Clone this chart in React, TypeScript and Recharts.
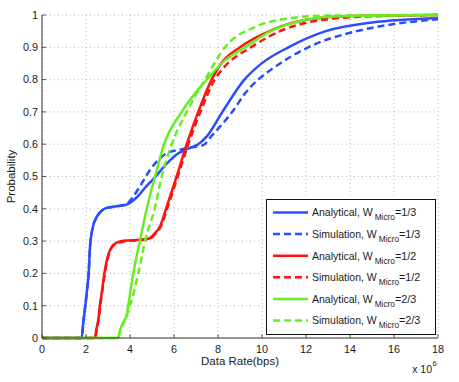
import React from 'react';
import { LineChart, Line, XAxis, YAxis, CartesianGrid, Legend } from 'recharts';

// ---------- data ----------
const xTicks = [0, 2, 4, 6, 8, 10, 12, 14, 16, 18];
const yTicks = [0, 0.1, 0.2, 0.3, 0.4, 0.5, 0.6, 0.7, 0.8, 0.9, 1];
const yTickLabels = ['0', '0.1', '0.2', '0.3', '0.4', '0.5', '0.6', '0.7', '0.8', '0.9', '1'];

const anaThirdX = [0, 1.8, 1.88, 1.95, 2.05, 2.12, 2.18, 2.3, 2.45, 2.65, 2.9, 3.3, 3.8, 4.3, 4.75, 5.1, 5.67, 6.2, 6.7, 7.1, 7.5, 8.2, 9.2, 10, 11.2, 12.9, 15, 18];
const anaThirdY = [0, 0, 0.05, 0.09, 0.15, 0.2, 0.28, 0.34, 0.37, 0.39, 0.402, 0.407, 0.412, 0.435, 0.47, 0.495, 0.54, 0.572, 0.588, 0.6, 0.625, 0.7, 0.8, 0.851, 0.9, 0.95, 0.977, 0.99];

const simThirdX = [0, 1.8, 1.88, 1.95, 2.05, 2.12, 2.18, 2.3, 2.45, 2.65, 2.9, 3.3, 3.8, 4.15, 4.5, 4.91, 5.3, 5.67, 6.27, 7.03, 7.33, 7.7, 8.1, 8.7, 9.2, 9.83, 10.5, 12.1, 14.3, 16, 18];
const simThirdY = [0, 0, 0.05, 0.09, 0.15, 0.2, 0.28, 0.34, 0.37, 0.39, 0.402, 0.407, 0.413, 0.438, 0.475, 0.52, 0.552, 0.572, 0.583, 0.593, 0.597, 0.625, 0.655, 0.705, 0.755, 0.8, 0.835, 0.9, 0.95, 0.972, 0.987];

const anaHalfX = [0, 2.4, 2.48, 2.56, 2.63, 2.71, 2.86, 3.0, 3.15, 3.4, 3.8, 4.45, 4.9, 5.1, 5.36, 5.67, 6.12, 6.58, 7.1, 7.71, 8.1, 9.0, 10.5, 12, 14, 18];
const anaHalfY = [0, 0, 0.03, 0.056, 0.1, 0.138, 0.21, 0.255, 0.28, 0.295, 0.302, 0.304, 0.309, 0.322, 0.345, 0.407, 0.5, 0.6, 0.7, 0.8, 0.846, 0.9, 0.955, 0.985, 0.997, 1];

const simHalfX = [0, 2.42, 2.5, 2.58, 2.65, 2.73, 2.88, 3.02, 3.17, 3.4, 3.8, 4.45, 4.9, 5.12, 5.4, 5.72, 6.17, 6.65, 7.2, 7.85, 8.3, 9.5, 11, 12.5, 15, 18];
const simHalfY = [0, 0, 0.03, 0.06, 0.1, 0.14, 0.21, 0.255, 0.28, 0.293, 0.3, 0.303, 0.307, 0.32, 0.345, 0.407, 0.5, 0.6, 0.7, 0.8, 0.84, 0.9, 0.955, 0.982, 0.996, 1];

const anaTwoThirdX = [0, 3.45, 3.55, 3.7, 3.85, 3.92, 4.15, 4.45, 4.76, 5.14, 5.55, 6.35, 7.49, 8.24, 9.3, 10.4, 12, 13.5, 18];
const anaTwoThirdY = [0, 0, 0.025, 0.05, 0.07, 0.1, 0.2, 0.3, 0.4, 0.5, 0.6, 0.7, 0.8, 0.855, 0.903, 0.95, 0.985, 0.996, 1];

const simTwoThirdX = [0, 3.45, 3.6, 3.8, 4.0, 4.38, 4.68, 5.12, 5.44, 5.9, 6.58, 7.41, 8.32, 9.76, 11.27, 12.8, 18];
const simTwoThirdY = [0, 0, 0.03, 0.06, 0.1, 0.2, 0.3, 0.4, 0.5, 0.6, 0.7, 0.8, 0.9, 0.965, 0.99, 0.998, 1];

const seriesLabels = ['Analytical, W', 'Simulation, W', 'Analytical, W', 'Simulation, W', 'Analytical, W', 'Simulation, W'];
const seriesFractions = ['=1/3', '=1/3', '=1/2', '=1/2', '=2/3', '=2/3'];

// ---------- styles ----------
const BLUE = '#2a4dff';
const RED = '#ff1212';
const GREEN = '#66ee22';
const AXIS = '#333333';
const TXT = '#1a1a1a';
const FONT = '"Liberation Sans", Arial, Helvetica, sans-serif';
const DASH = '7 4';

const build = (xs: number[], ys: number[]) => xs.map((x, i) => ({ x, y: ys[i] }));

const series = [
  { data: build(anaThirdX, anaThirdY), color: BLUE, dashed: false },
  { data: build(simThirdX, simThirdY), color: BLUE, dashed: true },
  { data: build(anaHalfX, anaHalfY), color: RED, dashed: false },
  { data: build(simHalfX, simHalfY), color: RED, dashed: true },
  { data: build(anaTwoThirdX, anaTwoThirdY), color: GREEN, dashed: false },
  { data: build(simTwoThirdX, simTwoThirdY), color: GREEN, dashed: true },
];

const BottomTick = (props: any) => {
  const { x, y, payload } = props;
  return (
    <g>
      <line x1={x} x2={x} y1={y} y2={y - 4} stroke={AXIS} strokeWidth={0.8} />
      <text x={x} y={y + 15} textAnchor="middle" fontSize={10.8} fill={TXT} fontFamily={FONT}>
        {payload.value}
      </text>
    </g>
  );
};

const LeftTick = (props: any) => {
  const { x, y, payload, index } = props;
  return (
    <g>
      <line x1={x} x2={x + 4} y1={y} y2={y} stroke={AXIS} strokeWidth={0.8} />
      <text x={x - 4} y={y + 3.8} textAnchor="end" fontSize={10.8} fill={TXT} fontFamily={FONT}>
        {yTickLabels[index] ?? String(payload.value)}
      </text>
    </g>
  );
};

const TopTick = (props: any) => {
  const { x, y } = props;
  return <line x1={x} x2={x} y1={y} y2={y + 4} stroke={AXIS} strokeWidth={0.8} />;
};

const RightTick = (props: any) => {
  const { x, y } = props;
  return <line x1={x} x2={x - 4} y1={y} y2={y} stroke={AXIS} strokeWidth={0.8} />;
};

const XLabel = (props: any) => {
  const vb = props.viewBox || {};
  const cx = vb.x + vb.width / 2;
  const right = vb.x + vb.width;
  return (
    <g fontFamily={FONT} fill={TXT}>
      <text x={cx} y={vb.y + 27} textAnchor="middle" fontSize={11.5}>Data Rate(bps)</text>
      <text x={right - 6} y={vb.y + 35} textAnchor="end" fontSize={10.5}>x 10</text>
      <text x={right - 5.5} y={vb.y + 27.5} textAnchor="start" fontSize={7.5}>6</text>
    </g>
  );
};

const YLabel = (props: any) => {
  const vb = props.viewBox || {};
  const cy = vb.y + vb.height / 2;
  return (
    <text
      x={15}
      y={cy}
      transform={`rotate(-90, 15, ${cy})`}
      textAnchor="middle"
      fontSize={11.5}
      fill={TXT}
      fontFamily={FONT}
    >
      Probability
    </text>
  );
};

const LegendBox = () => (
  <svg width={170} height={136} style={{ display: 'block' }}>
    <rect x={0.5} y={0.5} width={169} height={135} fill="#ffffff" stroke="#111111" strokeWidth={1} />
    {series.map((s, i) => {
      const cy = 13.5 + 21.6 * i;
      return (
        <g key={i}>
          <line
            x1={7}
            x2={42}
            y1={cy}
            y2={cy}
            stroke={s.color}
            strokeWidth={2.5}
            strokeDasharray={s.dashed ? DASH : undefined}
          />
          <text x={46} y={cy + 3.8} fontSize={10.5} fill={TXT} fontFamily={FONT}>
            {seriesLabels[i]}
            <tspan fontSize={8.3} dx={2} dy={4}>Micro</tspan>
            <tspan fontSize={10.8} dy={-4}>{seriesFractions[i]}</tspan>
          </text>
        </g>
      );
    })}
  </svg>
);

export default function App() {
  return (
    <div style={{ position: 'absolute', left: 0, top: 0, width: 459, height: 382, background: '#ffffff' }}>
      <LineChart width={459} height={382} margin={{ top: 15, right: 21, bottom: 0, left: 0 }}>
        <CartesianGrid stroke="#a8a8a8" strokeDasharray="1 3" strokeWidth={0.8} />
        <XAxis
          xAxisId={0}
          dataKey="x"
          type="number"
          domain={[0, 18]}
          ticks={xTicks}
          height={44}
          tickSize={0}
          tickMargin={0}
          axisLine={{ stroke: AXIS }}
          tickLine={false}
          tick={BottomTick}
          interval={0}
          label={XLabel}
        />
        <XAxis
          xAxisId="top"
          orientation="top"
          dataKey="x"
          type="number"
          domain={[0, 18]}
          ticks={xTicks}
          height={0}
          tickSize={0}
          tickMargin={0}
          axisLine={{ stroke: AXIS }}
          tickLine={false}
          tick={TopTick}
          interval={0}
        />
        <YAxis
          yAxisId={0}
          type="number"
          domain={[0, 1]}
          ticks={yTicks}
          width={42}
          tickSize={0}
          tickMargin={0}
          axisLine={{ stroke: AXIS }}
          tickLine={false}
          tick={LeftTick}
          interval={0}
          label={YLabel}
        />
        <YAxis
          yAxisId="right"
          orientation="right"
          type="number"
          domain={[0, 1]}
          ticks={yTicks}
          width={0}
          tickSize={0}
          tickMargin={0}
          axisLine={{ stroke: AXIS }}
          tickLine={false}
          tick={RightTick}
          interval={0}
        />
        {series.map((s, i) => (
          <Line
            key={i}
            xAxisId={0}
            yAxisId={0}
            data={s.data}
            dataKey="y"
            type="monotone"
            stroke={s.color}
            strokeWidth={2.5}
            strokeDasharray={s.dashed ? DASH : undefined}
            dot={false}
            activeDot={false}
            isAnimationActive={false}
          />
        ))}
        <Legend
          layout="vertical"
          align="center"
          verticalAlign="middle"
          wrapperStyle={{ left: 266, top: 199, width: 170, height: 136 }}
          content={LegendBox}
        />
      </LineChart>
    </div>
  );
}
